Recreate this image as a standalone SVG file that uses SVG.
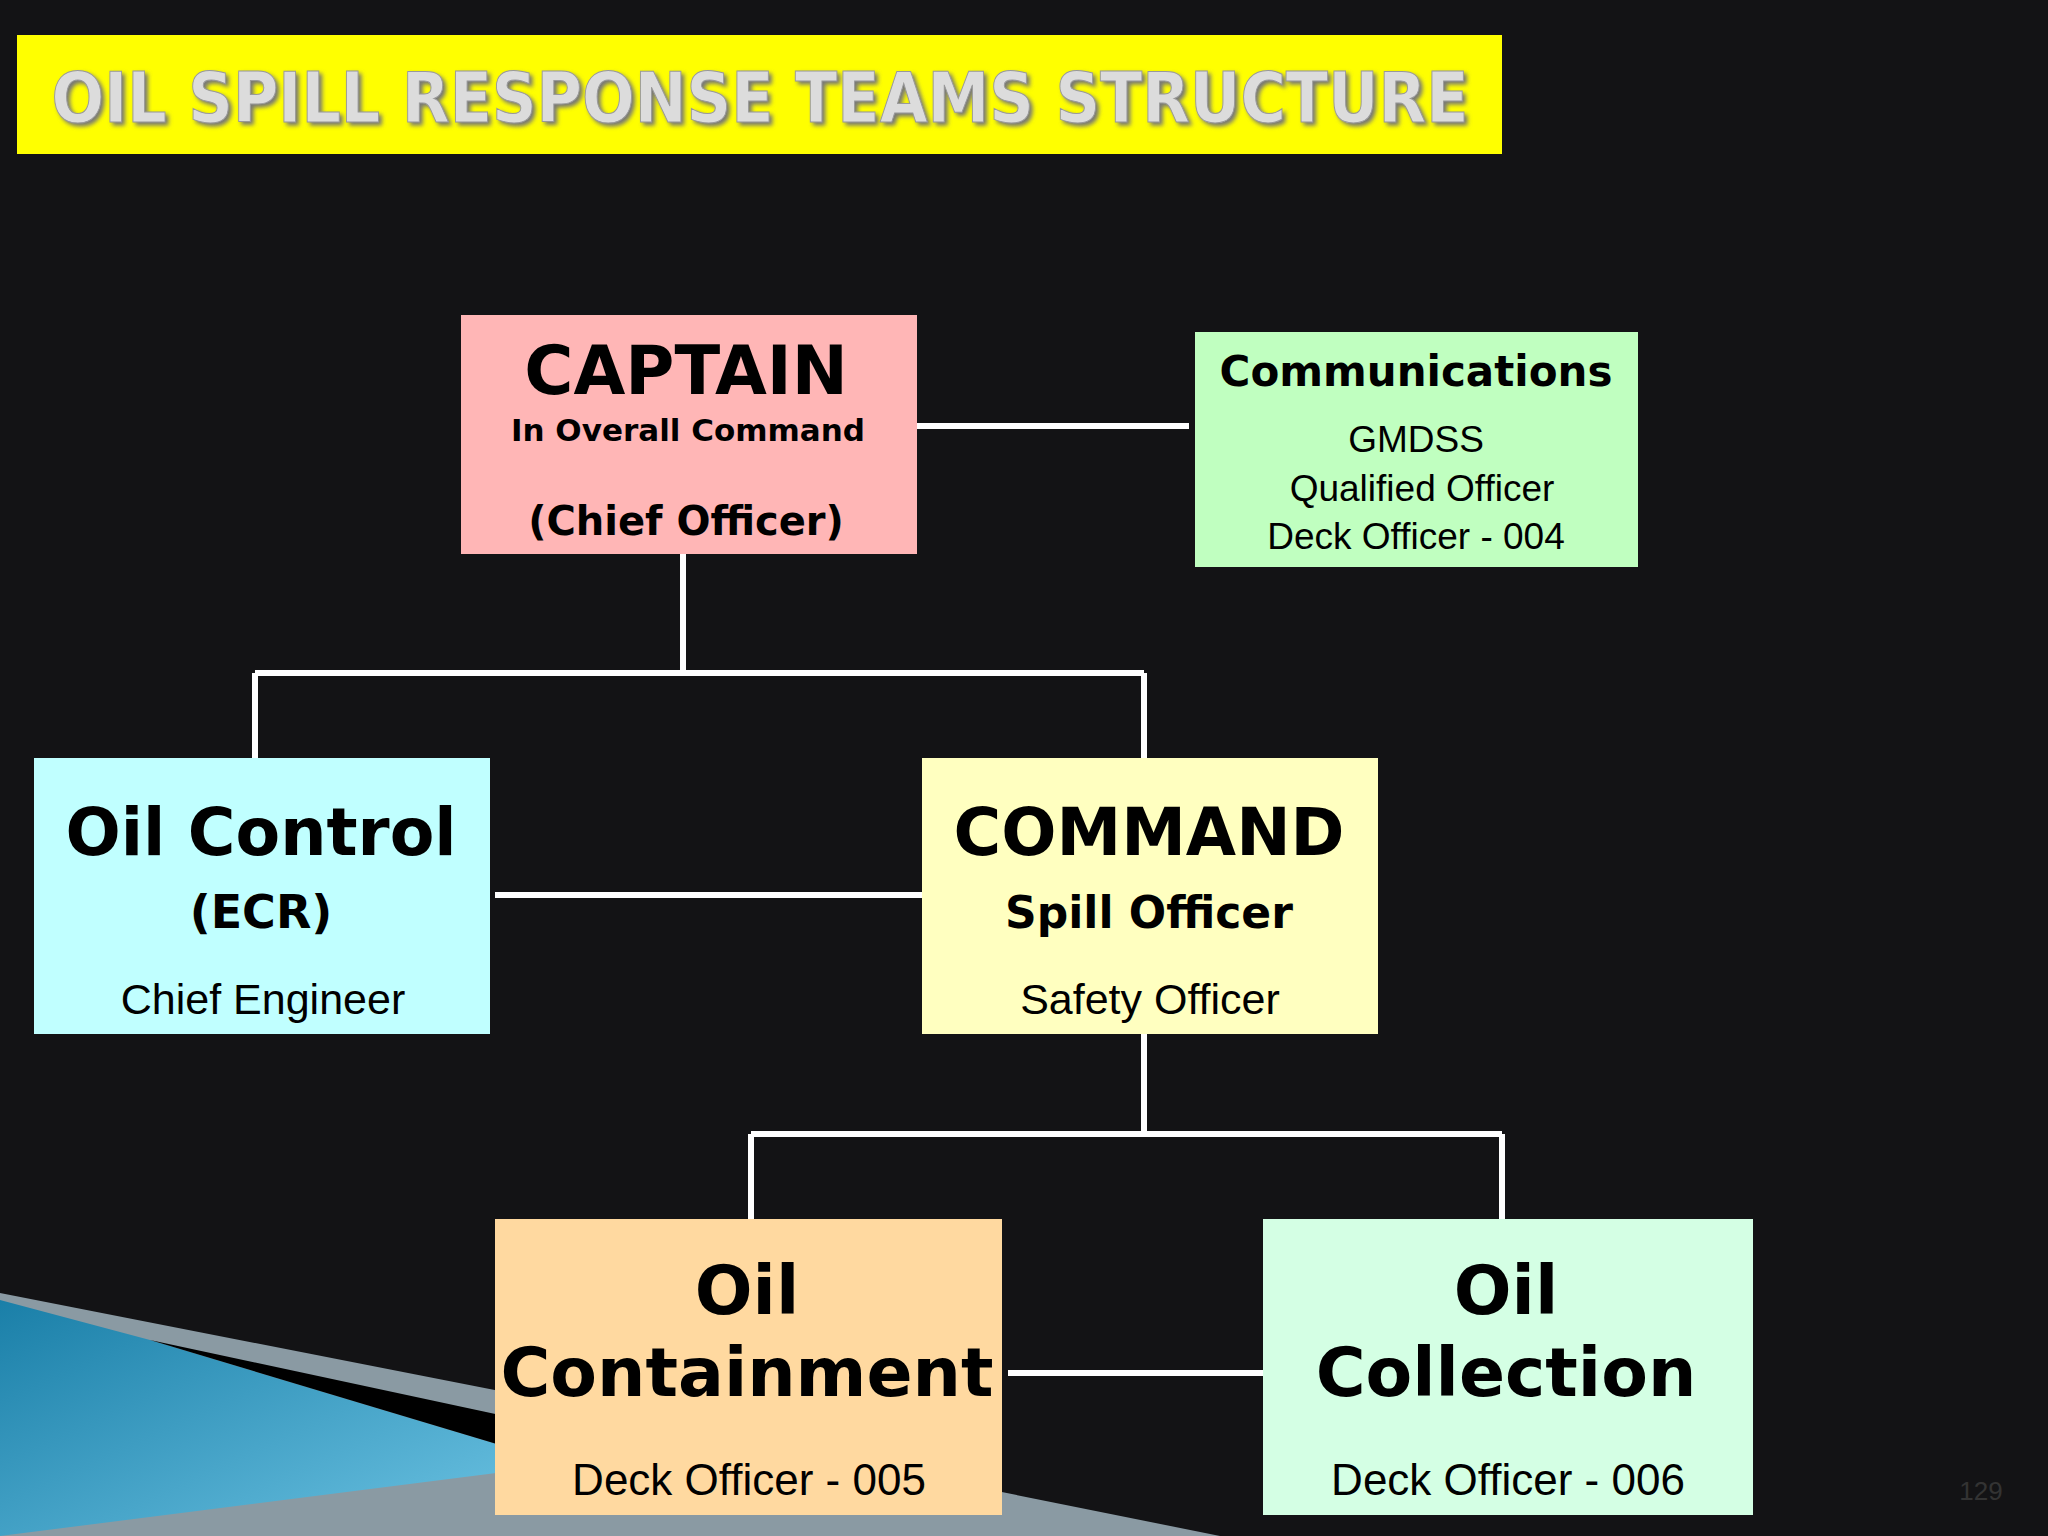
<svg xmlns="http://www.w3.org/2000/svg" width="2048" height="1536" viewBox="0 0 2048 1536">
<style>
.b{font-family:"DejaVu Sans",Verdana,sans-serif;font-weight:bold;fill:#000;text-anchor:middle}
.n{font-family:"Liberation Sans",Arial,sans-serif;fill:#000;text-anchor:middle}
.c{stroke:#fff;stroke-width:6;fill:none}
</style>
<defs>
<linearGradient id="sw" x1="0" y1="0" x2="1" y2="1">
<stop offset="0" stop-color="#1a7fa8"/><stop offset="1" stop-color="#6cc3e3"/>
</linearGradient>
<filter id="sh"><feDropShadow dx="3" dy="3" stdDeviation="2" flood-color="#777"/></filter>
</defs>
<rect width="2048" height="1536" fill="#131315"/>
<polygon points="0,1293 520,1395 1220,1536 0,1536" fill="#8a9aa3"/>
<polygon points="0,1300 150,1340 500,1445 520,1470 0,1536" fill="url(#sw)"/>
<polygon points="150,1340 500,1415 500,1445" fill="#000"/>
<rect x="17" y="35" width="1485" height="119" fill="#ffff00"/>
<text x="760" y="122" font-family="DejaVu Sans,Verdana,sans-serif" font-weight="bold" font-size="70" fill="#dcdcdc" stroke="#999" stroke-width="1" text-anchor="middle" textLength="1417" lengthAdjust="spacingAndGlyphs" filter="url(#sh)">OIL SPILL RESPONSE TEAMS STRUCTURE</text>
<g id="connectors">
<path class="c" d="M917 426H1189"/>
<path class="c" d="M683 554V673M255 673H1144M255 673V758M1144 673V758"/>
<path class="c" d="M495 895H922"/>
<path class="c" d="M1144 1034V1134M751 1134H1502M751 1134V1219M1502 1134V1219"/>
<path class="c" d="M1008 1373H1263"/>
</g>
<g id="captain"><rect x="461" y="315" width="456" height="239" fill="#ffb6b6"/>
<text class="b" x="686" y="394" font-size="67">CAPTAIN</text>
<text class="b" x="688" y="441" font-size="31">In Overall Command</text>
<text class="b" x="686" y="535" font-size="40">(Chief Officer)</text></g>
<g id="comms"><rect x="1195" y="332" width="443" height="235" fill="#c0ffc0"/>
<text class="b" x="1416" y="386" font-size="42">Communications</text>
<text class="n" x="1416" y="452" font-size="37">GMDSS</text>
<text class="n" x="1422" y="501" font-size="37">Qualified Officer</text>
<text class="n" x="1416" y="549" font-size="37">Deck Officer - 004</text></g>
<g id="oilcontrol"><rect x="34" y="758" width="456" height="276" fill="#c0ffff"/>
<text class="b" x="261" y="855" font-size="65">Oil Control</text>
<text class="b" x="261" y="928" font-size="46">(ECR)</text>
<text class="n" x="263" y="1014" font-size="43">Chief Engineer</text></g>
<g id="command"><rect x="922" y="758" width="456" height="276" fill="#ffffc0"/>
<text class="b" x="1149" y="855" font-size="65">COMMAND</text>
<text class="b" x="1149" y="928" font-size="44">Spill Officer</text>
<text class="n" x="1150" y="1014" font-size="43">Safety Officer</text></g>
<g id="containment"><rect x="495" y="1219" width="507" height="296" fill="#ffd9a0"/>
<text class="b" x="747" y="1314" font-size="68">Oil</text>
<text class="b" x="747" y="1396" font-size="68">Containment</text>
<text class="n" x="749" y="1495" font-size="44">Deck Officer - 005</text></g>
<g id="collection"><rect x="1263" y="1219" width="490" height="296" fill="#d4ffe4"/>
<text class="b" x="1506" y="1314" font-size="68">Oil</text>
<text class="b" x="1506" y="1396" font-size="68">Collection</text>
<text class="n" x="1508" y="1495" font-size="44">Deck Officer - 006</text></g>
<text x="1981" y="1500" font-family="Liberation Sans,Arial,sans-serif" font-size="26" fill="#333" text-anchor="middle">129</text>
</svg>
